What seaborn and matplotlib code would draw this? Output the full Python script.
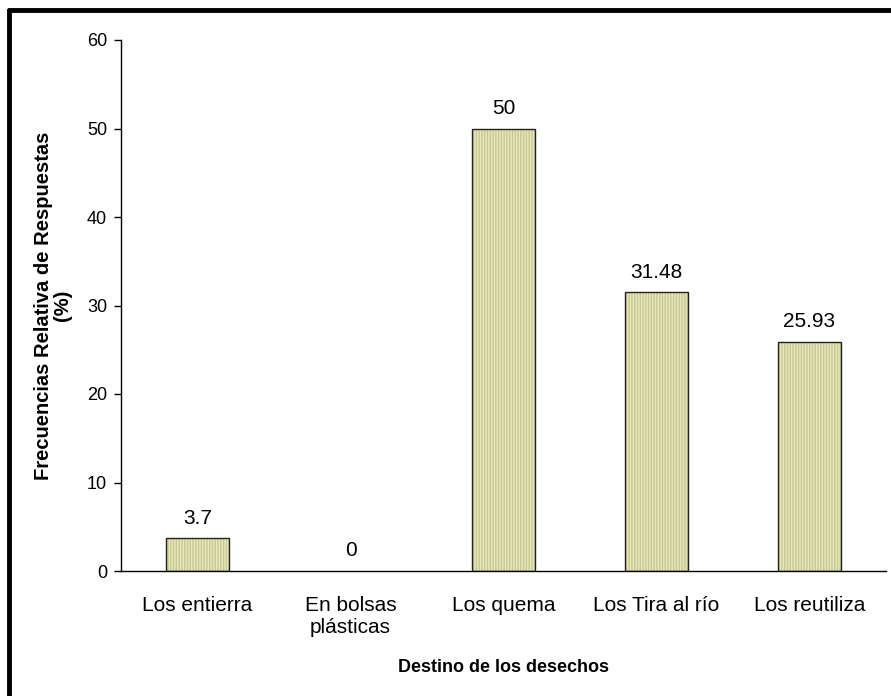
import matplotlib
matplotlib.use("Agg")
import matplotlib.pyplot as plt
from matplotlib.lines import Line2D
import seaborn as sns
import pandas as pd
import numpy as np

categories = ["Los entierra", "En bolsas\nplásticas", "Los quema", "Los Tira al río", "Los reutiliza"]
values = [3.7, 0, 50, 31.48, 25.93]
value_labels = ["3.7", "0", "50", "31.48", "25.93"]

sns.set_theme(style="white")
plt.rcParams["font.family"] = ["Liberation Sans", "DejaVu Sans"]
plt.rcParams["text.color"] = "black"
plt.rcParams["axes.labelcolor"] = "black"
plt.rcParams["xtick.color"] = "black"
plt.rcParams["ytick.color"] = "black"
plt.rcParams["hatch.linewidth"] = 1.0

df = pd.DataFrame({"destino": categories, "frecuencia": values})

fig = plt.figure(figsize=(8.91, 6.96), dpi=100)
ax = fig.add_axes([121 / 891, 1 - 571 / 696, 765 / 891, 531 / 696])

fill = "#e8e8bc"
stripe = "#c8c892"

# striped fill first, then a dark outline on top
sns.barplot(data=df, x="destino", y="frecuencia", color=fill, width=0.41,
            saturation=1, ax=ax, linewidth=0)
for p in ax.patches:
    p.set_hatch("||||||")
    p.set_edgecolor(stripe)
for p in list(ax.patches):
    if p.get_height() > 0:
        ax.add_patch(plt.Rectangle((p.get_x(), 0), p.get_width(), p.get_height(),
                                   facecolor="none", edgecolor="#222222", lw=1.0, zorder=3))

for i, (v, lab) in enumerate(zip(values, value_labels)):
    ax.text(i, v + 1.2, lab, ha="center", va="bottom", fontsize=15, color="black")

ax.set_ylim(0, 60)
ax.set_xlim(-0.5, len(categories) - 0.5)
ax.set_yticks(range(0, 61, 10))
ax.set_xticks(range(len(categories)))
ax.set_xticklabels(categories, fontsize=15)
ax.set_xticks(np.arange(-0.5, len(categories), 1), minor=True)
ax.tick_params(axis="x", which="major", length=0, pad=18)
ax.tick_params(axis="x", which="minor", length=6, width=1, color="#333333", direction="out")
ax.tick_params(axis="y", length=5, width=1, color="black", direction="out", labelsize=13, pad=5)
ax.tick_params(left=True, bottom=True)

ax.set_xlabel("Destino de los desechos", fontsize=13, fontweight="bold", labelpad=16)
ax.set_ylabel("Frecuencias Relativa de Respuestas\n(%)", fontsize=14.5, fontweight="bold",
              labelpad=11, linespacing=0.95)

sns.despine(ax=ax)
for s in ["left", "bottom"]:
    ax.spines[s].set_color("black")
    ax.spines[s].set_linewidth(1)

# thick frame on top and left edges of the figure
fig.add_artist(Line2D([9 / 891, 1], [1 - 10 / 696, 1 - 10 / 696], color="black", lw=3.5,
                      transform=fig.transFigure))
fig.add_artist(Line2D([9 / 891, 9 / 891], [0, 1 - 10 / 696], color="black", lw=3.5,
                      transform=fig.transFigure))

fig.savefig("out.png", dpi=100)
